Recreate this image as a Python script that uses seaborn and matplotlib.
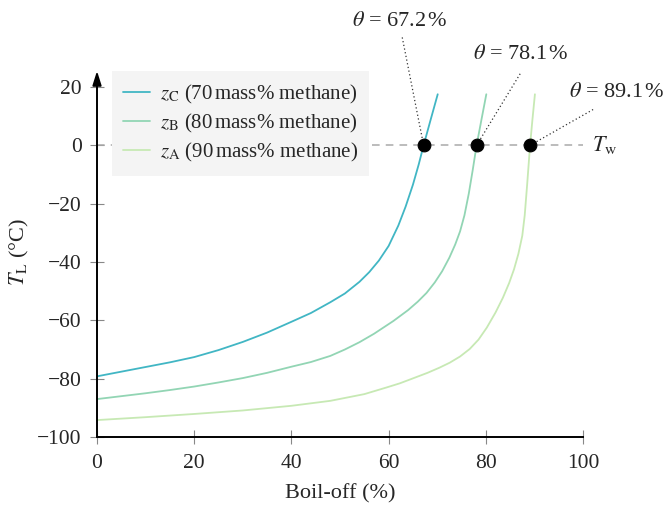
import pandas as pd
import matplotlib
matplotlib.use("Agg")
import matplotlib.pyplot as plt
import seaborn as sns

# boil-off curves (x in %, T_L in degC)
boil_c = [0, 5, 10, 15, 20, 25, 30, 35, 40, 44, 48, 51, 54, 56, 58, 60, 62, 63.5, 65, 66.2, 67.2, 68.6, 70.1]
temp_c = [-79.2, -77.6, -76.0, -74.4, -72.6, -70.2, -67.4, -64.2, -60.5, -57.5, -53.8, -50.8, -46.8,
          -43.5, -39.5, -34.5, -27.5, -21.0, -13.5, -6.5, 0, 8.5, 17.5]

boil_b = [0, 5, 10, 15, 20, 25, 30, 35, 40, 44, 48, 51, 54, 57, 61, 64, 66, 67.8, 69.5, 71, 72.5, 73.7,
          74.7, 75.6, 76.5, 77.3, 78.1, 79.1, 80.1]
temp_b = [-87.0, -86.0, -85.0, -83.9, -82.7, -81.3, -79.8, -78.0, -75.9, -74.3, -72.2, -70.0, -67.5,
          -64.6, -60.2, -56.5, -53.6, -50.6, -47.0, -43.2, -38.5, -34.0, -29.5, -24.0, -16.5, -8.5, 0,
          8.8, 17.5]

boil_a = [0, 10, 20, 30, 40, 48, 55, 59.6, 62.3, 65, 68, 70.5, 72.6, 74.7, 76.7, 78.5, 80.2, 82, 83.5,
          84.8, 85.8, 86.7, 87.5, 88.0, 88.5, 89.1, 89.6, 90.1]
temp_a = [-94.2, -93.2, -92.1, -90.9, -89.3, -87.6, -85.3, -83.0, -81.6, -79.9, -78.0, -76.2, -74.5,
          -72.4, -69.8, -66.6, -62.5, -57.3, -52.3, -47.2, -42.5, -37.2, -31.0, -24.0, -13.5, 0, 9.0, 17.5]

labels = [
    r"$z_\mathrm{C}$ (70$\,$mass% methane)",
    r"$z_\mathrm{B}$ (80$\,$mass% methane)",
    r"$z_\mathrm{A}$ (90$\,$mass% methane)",
]
colors = ["#41b6c4", "#92d5b4", "#c7e9b4"]

theta = [67.2, 78.1, 89.1]
t_wall = 0

sns.set_theme(style="white")
plt.rcParams["font.family"] = ["Liberation Serif", "DejaVu Serif"]
plt.rcParams["mathtext.fontset"] = "stix"

fig = plt.figure(figsize=(6.7, 5.11), dpi=100)
ax = fig.add_axes([0.1448, 0.1448, 0.7254, 0.685])

# wall temperature line
ax.plot([0, 100], [t_wall, t_wall], ls=(0, (5, 4)), color="#aaaaaa", lw=1.1, zorder=1)

for bx, ty, lab, col in zip([boil_c, boil_b, boil_a], [temp_c, temp_b, temp_a], labels, colors):
    df = pd.DataFrame({"x": bx, "y": ty})
    sns.lineplot(data=df, x="x", y="y", color=col, lw=1.3, label=lab, ax=ax, sort=False, zorder=2)

pts = pd.DataFrame({"x": theta, "y": [t_wall] * 3})
sns.scatterplot(data=pts, x="x", y="y", color="black", s=85, edgecolor="black", ax=ax, zorder=5, legend=False)

# annotations for the crossing points
text_pos = [(62.3, 42.5), (87.2, 31.2), (107.0, 18.2)]
line_end = [(62.8, 37.0), (87.2, 24.9), (102.1, 12.3)]
for th, (tx, ty), (lx, ly) in zip(theta, text_pos, line_end):
    ax.plot([th, lx], [t_wall, ly], ls=(0, (1, 2)), color="#333333", lw=0.9, clip_on=False, zorder=4)
    ax.text(tx, ty, r"$\theta$ = %.1f$\,$%%" % th, ha="center", va="center", fontsize=16, clip_on=False)

ax.text(104.5, t_wall, r"$T_\mathrm{w}$", ha="center", va="center", fontsize=16, clip_on=False)

ax.set_xlim(0, 100)
ax.set_ylim(-100, 20)
ax.set_xticks(range(0, 101, 20))
ax.set_yticks(range(-100, 21, 20))
ax.set_xlabel("Boil-off (%)", fontsize=16, labelpad=8)
ax.set_ylabel(r"$T_\mathrm{L}$ (°C)", fontsize=16)
ax.yaxis.set_label_coords(-0.135, 0.529)
ax.tick_params(axis="both", direction="inout", length=10, width=0.8, color="#888888",
               labelsize=15.5, left=True, bottom=True)
ax.tick_params(axis="x", pad=7)
ax.tick_params(axis="y", pad=6)

for side in ["top", "right"]:
    ax.spines[side].set_visible(False)
for side in ["left", "bottom"]:
    ax.spines[side].set_color("black")
    ax.spines[side].set_linewidth(1.4)

# arrow on top of the y axis
ax.annotate("", xy=(0, 25.5), xytext=(0, 19.5), xycoords="data",
            arrowprops=dict(arrowstyle="-|>,head_length=0.7,head_width=0.22", color="black", lw=1.4,
                            shrinkA=0, shrinkB=0),
            annotation_clip=False)

leg = ax.legend(loc="upper left", bbox_to_anchor=(0.03, 1.045), fontsize=15, frameon=True,
                fancybox=False, edgecolor="none", facecolor="#f4f4f4", framealpha=1,
                handlelength=1.3, handletextpad=0.45, borderpad=0.55, labelspacing=0.3, borderaxespad=0)

fig.savefig("out.png", dpi=100)
